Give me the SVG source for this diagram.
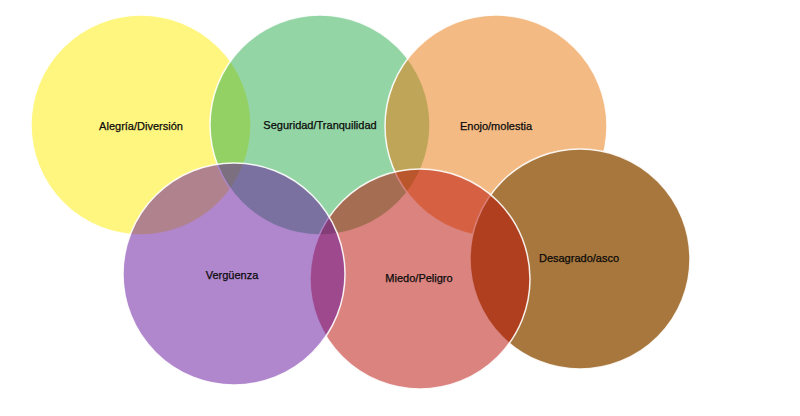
<svg xmlns="http://www.w3.org/2000/svg" width="800" height="416" viewBox="0 0 800 416">
<style>
.c{stroke:#ffffff;stroke-width:1.5;stroke-opacity:0.9}
.t{font-family:"Liberation Sans",Arial,sans-serif;font-size:11px;fill:#0a0a0a;stroke:#0a0a0a;stroke-width:0.25;text-anchor:middle}
</style>
<rect width="800" height="416" fill="#ffffff"/>
<g id="alegria"><circle class="c" cx="141" cy="125" r="110" fill="#FFED00" fill-opacity="0.5"/></g>
<g id="seguridad"><circle class="c" cx="320" cy="125" r="110" fill="#29AB4B" fill-opacity="0.5"/></g>
<g id="enojo"><circle class="c" cx="496" cy="126" r="111" fill="#E97509" fill-opacity="0.5"/></g>
<g id="desagrado"><circle class="c" cx="580" cy="259" r="110" fill="#A8773D"/></g>
<g id="miedo"><circle class="c" cx="420" cy="279" r="110" fill="#B50700" fill-opacity="0.5"/></g>
<g id="verguenza"><circle class="c" cx="234" cy="274" r="111" fill="#610D9B" fill-opacity="0.5"/></g>
<g id="labels">
<text class="t" x="141" y="129.5">Alegría/Diversión</text>
<text class="t" x="320" y="129">Seguridad/Tranquilidad</text>
<text class="t" x="496" y="130">Enojo/molestia</text>
<text class="t" x="232" y="279">Vergüenza</text>
<text class="t" x="419" y="281.5">Miedo/Peligro</text>
<text class="t" x="579" y="261.5">Desagrado/asco</text>
</g>
</svg>
